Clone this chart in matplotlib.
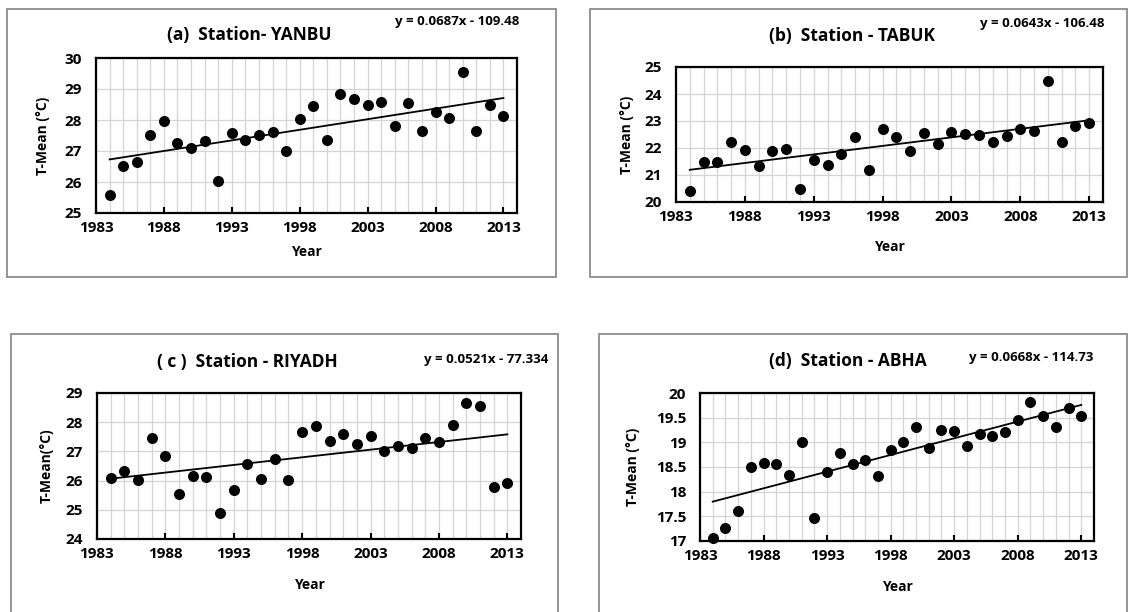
import numpy as np
import matplotlib
matplotlib.use('Agg')
import matplotlib.pyplot as plt
from matplotlib.patches import Rectangle
from matplotlib.ticker import FormatStrFormatter

plt.rcParams['font.family'] = ['Open Sans', 'DejaVu Sans']

years = list(range(1984, 2014))

yanbu = [25.58, 26.53, 26.63, 27.53, 27.98, 27.25, 27.09, 27.31, 26.04, 27.57,
         27.37, 27.52, 27.61, 27.01, 28.02, 28.45, 27.35, 28.84, 28.69, 28.49,
         28.58, 27.81, 28.54, 27.63, 28.26, 28.06, 29.56, 27.66, 28.47, 28.12]
tabuk = [20.42, 21.50, 21.50, 22.24, 21.94, 21.35, 21.88, 21.96, 20.48, 21.56,
         21.37, 21.78, 22.39, 21.20, 22.70, 22.39, 21.88, 22.56, 22.13, 22.60,
         22.51, 22.49, 22.24, 22.46, 22.69, 22.62, 24.50, 22.23, 22.80, 22.92]
riyadh = [26.09, 26.33, 26.02, 27.46, 26.85, 25.54, 26.15, 26.12, 24.88, 25.67,
          26.58, 26.05, 26.75, 26.03, 27.65, 27.87, 27.34, 27.61, 27.26, 27.52,
          27.03, 27.18, 27.11, 27.47, 27.33, 27.90, 28.67, 28.57, 25.78, 25.92]
abha = [17.07, 17.26, 17.60, 18.50, 18.58, 18.56, 18.33, 19.01, 17.47, 18.39,
        18.78, 18.56, 18.65, 18.31, 18.84, 19.01, 19.31, 18.88, 19.26, 19.22,
        18.93, 19.17, 19.12, 19.20, 19.46, 19.81, 19.53, 19.31, 19.69, 19.53]

titles = ['(a)  Station- YANBU', '(b)  Station - TABUK',
          '( c )  Station - RIYADH', '(d)  Station - ABHA']
equations = ['y = 0.0687x - 109.48', 'y = 0.0643x - 106.48',
             'y = 0.0521x - 77.334', 'y = 0.0668x - 114.73']
ylabels = ['T-Mean (°C)', 'T-Mean (°C)', 'T-Mean(°C)', 'T-Mean (°C)']
ylims = [(25, 30), (20, 25), (24, 29), (17, 20)]
ysteps = [1, 1, 1, 0.5]
x_ticks = [1983, 1988, 1993, 1998, 2003, 2008, 2013]

W, H = 1129, 612
fig = plt.figure(figsize=(W / 100, H / 100), dpi=100)

def px_rect(l, t, r, b):
    return [l / W, 1 - b / H, (r - l) / W, (b - t) / H]

# pixel layout: frame, outer box, title pos, equation right edge, ylabel x, xlabel y
panels = [
    dict(frame=(96, 58, 517, 213), box=(7, 9, 556, 277), title=(249, 35),
         eq=(519, 21), ylab=43, xlab=252),
    dict(frame=(676, 67, 1103, 202), box=(590, 9, 1127, 277), title=(852, 36),
         eq=(1104, 23), ylab=627, xlab=247),
    dict(frame=(97, 393, 521, 539), box=(11, 334, 558, 640), title=(247, 362),
         eq=(548, 359), ylab=47, xlab=585),
    dict(frame=(700, 393, 1094, 541), box=(599, 334, 1127, 640), title=(848, 361),
         eq=(1093, 357), ylab=633, xlab=587),
]
series = [yanbu, tabuk, riyadh, abha]

for i, p in enumerate(panels):
    l, t, r, b = p['box']
    fig.patches.append(Rectangle((l / W, 1 - b / H), (r - l) / W, (b - t) / H,
                                 transform=fig.transFigure, fill=False,
                                 edgecolor='#8c8c8c', linewidth=1.3))
    ax = fig.add_axes(px_rect(*p['frame']))
    vals = series[i]
    ax.set_xlim(1983, 2014)
    ax.set_ylim(*ylims[i])
    ax.set_xticks(x_ticks)
    ax.set_xticks(range(1983, 2015), minor=True)
    ax.set_yticks(np.arange(ylims[i][0], ylims[i][1] + 0.01, ysteps[i]))
    ax.yaxis.set_major_formatter(FormatStrFormatter('%g'))
    ax.grid(True, which='both', axis='x', color='#d4d4d4', linewidth=0.9)
    ax.grid(True, which='major', axis='y', color='#d4d4d4', linewidth=0.9)
    ax.set_axisbelow(True)
    ax.tick_params(axis='x', which='major', direction='in', length=4, width=1.5,
                   pad=6, labelsize=11)
    ax.tick_params(axis='x', which='minor', length=0)
    ax.tick_params(axis='y', length=0, pad=10, labelsize=11)
    for lab in ax.get_xticklabels() + ax.get_yticklabels():
        lab.set_fontweight('bold')
    for s in ax.spines.values():
        s.set_linewidth(1.6)
    ax.scatter(years, vals, s=48, color='black', zorder=3, clip_on=False)
    k, c = np.polyfit(years, vals, 1)
    xs = np.array([years[0], years[-1]])
    ax.plot(xs, k * xs + c, color='black', linewidth=1.3, zorder=2)

    tx, ty = p['title']
    fig.text(tx / W, 1 - ty / H, titles[i], ha='center', va='center',
             fontsize=12.5, fontweight='bold')
    ex, ey = p['eq']
    fig.text(ex / W, 1 - ey / H, equations[i], ha='right', va='center',
             fontsize=9.5, fontweight='bold')
    fl, ft, fr, fb = p['frame']
    fig.text(p['ylab'] / W, 1 - (ft + fb) / 2 / H, ylabels[i], rotation=90,
             ha='center', va='center', fontsize=10, fontweight='bold')
    fig.text((fl + fr) / 2 / W, 1 - p['xlab'] / H, 'Year', ha='center',
             va='center', fontsize=10, fontweight='bold')

fig.savefig('out.png', dpi=100)
